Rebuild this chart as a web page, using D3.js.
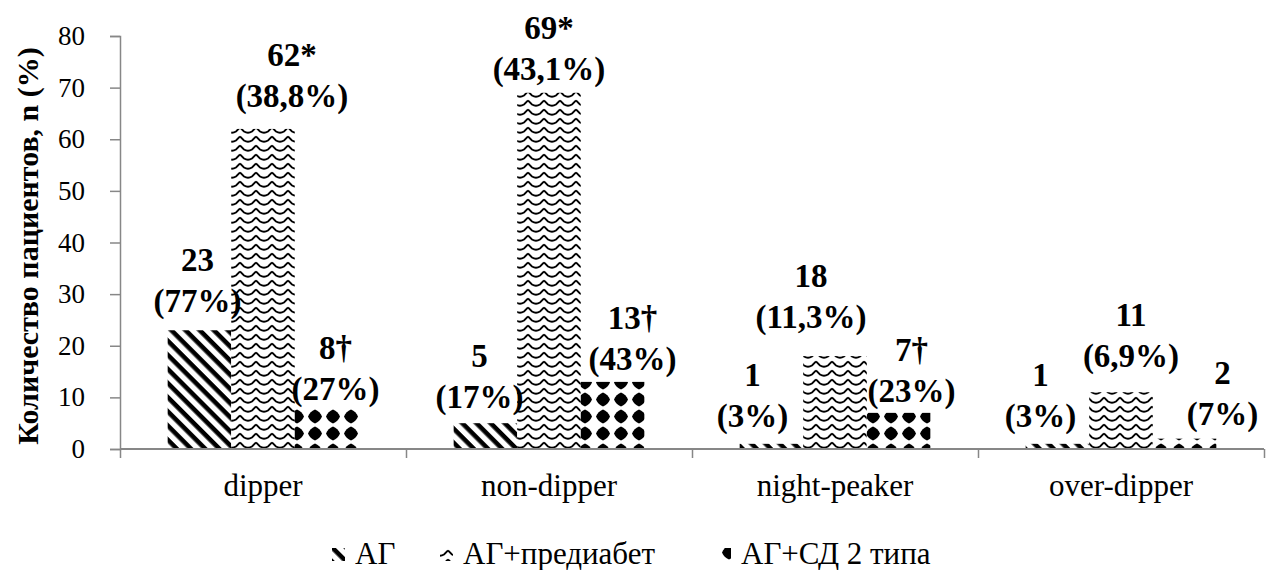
<!DOCTYPE html>
<html>
<head>
<meta charset="utf-8">
<script src="https://cdn.jsdelivr.net/npm/d3@7"></script>
</head>
<body style="margin:0">
<svg id="chart" width="1267" height="570" font-family="Liberation Serif"></svg>
<script>
// Blood-pressure circadian profiles by patient group
const categories = ["dipper", "non-dipper", "night-peaker", "over-dipper"];
const seriesNames = ["АГ", "АГ+предиабет", "АГ+СД 2 типа"];

const valuesAG  = [23, 5, 1, 1];
const valuesPre = [62, 69, 18, 11];
const valuesSD  = [8, 13, 7, 2];

const marksAG  = ["", "", "", ""];
const marksPre = ["*", "*", "", ""];
const marksSD  = ["†", "†", "†", ""];

const pctAG  = ["77%", "17%", "3%", "3%"];
const pctPre = ["38,8%", "43,1%", "11,3%", "6,9%"];
const pctSD  = ["27%", "43%", "23%", "7%"];

const yTicks = [0, 10, 20, 30, 40, 50, 60, 70, 80];
const yTitle = "Количество пациентов, n (%)";

// Hand placement of the two-line value labels (px): horizontal shift from
// the bar centre and distance from the bar top to the lower line's baseline.
const labelDx   = [[-2, -6, -19, -17], [29, 0, -24, 10], [9, 20, 13, 38]];
const labelLift = [[18, 15, 17, 17], [22, 13, 28, 25], [8, 12, 11, 14]];

const seriesValues = [valuesAG, valuesPre, valuesSD];
const seriesMarks = [marksAG, marksPre, marksSD];
const seriesPct = [pctAG, pctPre, pctSD];
const patternIds = ["pat-stripes", "pat-zigzag", "pat-diamonds"];

const FONT = "Liberation Serif";

const svg = d3.select("#chart");
const plotLeft = 120, plotRight = 1264, plotTop = 36, plotBottom = 449;
const axisColor = "#878787";

// Text is positioned from its measured width instead of text-anchor.
function addText(parent, str, x, y, size, weight, align) {
  const t = parent.append("text")
    .attr("font-family", FONT)
    .attr("font-size", size)
    .attr("font-weight", weight)
    .attr("y", y)
    .text(str);
  const w = t.node().getComputedTextLength();
  const shift = align === "middle" ? w / 2 : align === "end" ? w : 0;
  t.attr("x", x - shift);
  return t;
}

// ---- fill patterns ----
const defs = svg.append("defs");

const stripes = defs.append("pattern")
  .attr("id", "pat-stripes")
  .attr("patternUnits", "userSpaceOnUse")
  .attr("width", 10).attr("height", 10)
  .attr("patternTransform", "rotate(45)");
stripes.append("rect").attr("width", 10).attr("height", 10).attr("fill", "#fff");
stripes.append("rect").attr("y", 0).attr("width", 10).attr("height", 4.6).attr("fill", "#000");

const zig = defs.append("pattern")
  .attr("id", "pat-zigzag")
  .attr("patternUnits", "userSpaceOnUse")
  .attr("width", 16).attr("height", 9);
zig.append("rect").attr("width", 16).attr("height", 9).attr("fill", "#fff");
zig.append("path")
  .attr("d", "M0,1.5 L4,5.5 Q8,8 12,5.5 L16,1.5")
  .attr("fill", "none").attr("stroke", "#000").attr("stroke-width", 1.8);

const dia = defs.append("pattern")
  .attr("id", "pat-diamonds")
  .attr("patternUnits", "userSpaceOnUse")
  .attr("width", 18).attr("height", 17);
dia.append("rect").attr("width", 18).attr("height", 17).attr("fill", "#fff");
dia.append("path")
  .attr("d", "M9,1.5 Q14,3.5 16,8.5 Q14,13.5 9,15.5 Q4,13.5 2,8.5 Q4,3.5 9,1.5 Z")
  .attr("fill", "#000");

// ---- scales ----
const x0 = d3.scaleBand().domain(categories).range([plotLeft, plotRight]).paddingInner(0).paddingOuter(0);
const x1 = d3.scaleBand().domain(seriesNames).range([0, x0.bandwidth()]).paddingInner(0).paddingOuter(0.75);
const y = d3.scaleLinear().domain([0, 80]).range([plotBottom, plotTop]);

// ---- bars ----
const barData = [];
seriesNames.forEach((s, si) => {
  categories.forEach((c, ci) => {
    barData.push({ s, si, c, ci, v: seriesValues[si][ci] });
  });
});

svg.append("g").selectAll("rect")
  .data(barData)
  .join("rect")
  .attr("x", d => x0(d.c) + x1(d.s))
  .attr("y", d => y(d.v))
  .attr("width", x1.bandwidth())
  .attr("height", d => y(0) - y(d.v))
  .attr("fill", d => `url(#${patternIds[d.si]})`);

// ---- axes ----
const yAxis = d3.axisLeft(y).tickValues(yTicks).tickSize(10).tickFormat("");
const gy = svg.append("g").attr("transform", `translate(${plotLeft},0)`).call(yAxis);
gy.attr("font-family", null).attr("font-size", null).attr("text-anchor", null);
gy.selectAll(".tick text").remove();
gy.select(".domain").attr("stroke", axisColor).attr("stroke-width", 1.5);
gy.selectAll(".tick line").attr("stroke", axisColor).attr("stroke-width", 1.5);

const yLabels = svg.append("g");
yTicks.forEach(v => addText(yLabels, d3.format("d")(v), 85, y(v) + 9, 27, "normal", "end"));

const xBoundary = d3.scaleLinear().domain([0, categories.length]).range([plotLeft, plotRight]);
const xAxis = d3.axisBottom(xBoundary).tickValues(d3.range(categories.length + 1)).tickSize(9).tickFormat("");
const gx = svg.append("g").attr("transform", `translate(0,${plotBottom})`).call(xAxis);
gx.attr("font-family", null).attr("font-size", null).attr("text-anchor", null);
gx.selectAll(".tick text").remove();
gx.select(".domain").attr("stroke", axisColor).attr("stroke-width", 2).attr("d", `M${plotLeft},0H${plotRight}`);
gx.selectAll(".tick line").attr("stroke", axisColor).attr("stroke-width", 1.5);

const xLabels = svg.append("g");
categories.forEach(c => addText(xLabels, c, x0(c) + x0.bandwidth() / 2, 496, 31, "normal", "middle"));

// ---- y-axis title ----
const titleG = svg.append("g").attr("transform", "translate(38,246) rotate(-90)");
addText(titleG, yTitle, 0, 0, 30, "bold", "middle");

// ---- value labels ----
const lab = svg.append("g");
barData.forEach(d => {
  const cx = x0(d.c) + x1(d.s) + x1.bandwidth() / 2 + labelDx[d.si][d.ci];
  const base2 = y(d.v) - labelLift[d.si][d.ci];
  addText(lab, d.v + seriesMarks[d.si][d.ci], cx, base2 - 41, 33, "bold", "middle");
  addText(lab, "(" + seriesPct[d.si][d.ci] + ")", cx, base2, 33, "bold", "middle");
});

// ---- legend ----
const legendX = [332, 440, 718];
const legend = svg.append("g");
seriesNames.forEach((s, i) => {
  legend.append("rect")
    .attr("x", legendX[i]).attr("y", 548)
    .attr("width", 13).attr("height", 13)
    .attr("fill", `url(#${patternIds[i]})`);
  addText(legend, s, legendX[i] + 23, 564, 31, "normal", "start");
});
</script>
</body>
</html>
